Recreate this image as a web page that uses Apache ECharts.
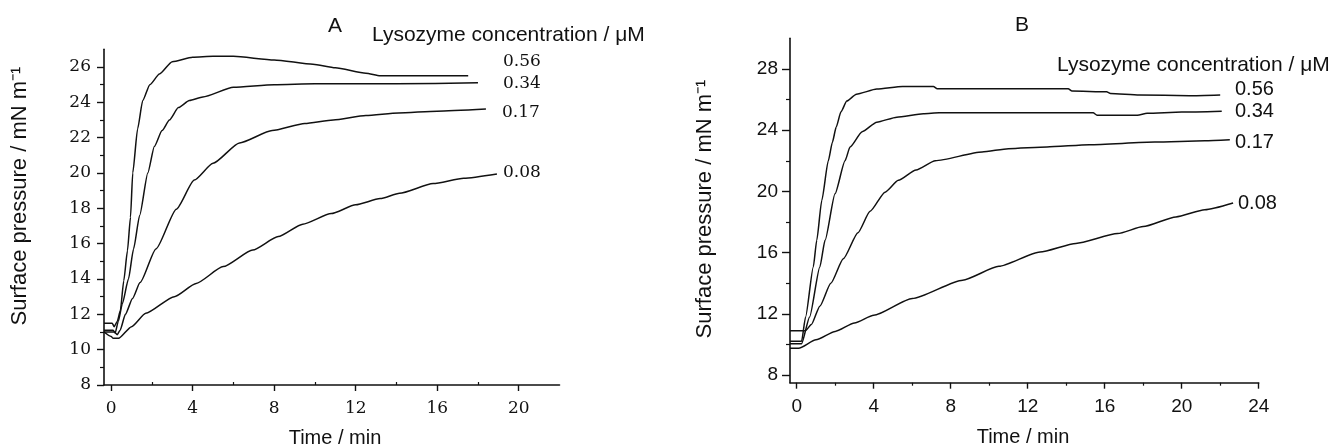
<!DOCTYPE html>
<html>
<head>
<meta charset="utf-8">
<script src="https://cdn.jsdelivr.net/npm/echarts@6/dist/echarts.min.js"></script>
<style>html,body{margin:0;padding:0;background:#fff;}#c{width:1338px;height:446px;}</style>
</head>
<body>
<div id="c"></div>
<script>
// ---- Panel A data (time / min, surface pressure / mN m-1) ----
const timeA056 = [-0.35,0.05,0.15,0.3,0.45,0.62,0.8,0.95,1.06,1.3,1.55,1.9,2.37,3.0,4.0,5.0,6.0,8.0,9.9,11.0,12.5,13.2,17.52];
const presA056 = [11.5,11.5,11.3,11.6,12.2,13.9,15.6,17.5,20.0,22.5,24.1,25.0,25.6,26.3,26.55,26.6,26.6,26.4,26.15,25.95,25.65,25.5,25.5];
const timeA034 = [-0.35,0.1,0.2,0.35,0.55,0.85,1.1,1.4,1.8,2.12,2.5,2.86,3.3,3.84,4.5,6.0,8.0,10,14,18.0];
const presA034 = [11.1,11.1,10.95,11.6,12.6,14.0,15.7,17.6,20.0,21.5,22.4,23.0,23.7,24.1,24.3,24.85,25.0,25.05,25.05,25.1];
const timeA017 = [-0.35,0.15,0.3,0.44,0.7,1.05,1.42,2.2,3.2,4.08,5.0,6.3,7.9,9.5,10.9,12.5,14.1,16,18.39];
const presA017 = [11.0,11.0,10.85,11.1,12.0,12.9,13.8,15.7,17.95,19.6,20.55,21.7,22.4,22.8,23.0,23.25,23.4,23.5,23.62];
const timeA008 = [-0.35,0.0,0.1,0.36,1.0,1.7,3.1,4.17,5.5,6.95,8.2,9.4,10.8,12.0,13.2,14.15,15.8,17.3,18.93];
const presA008 = [11.0,10.75,10.64,10.64,11.3,12.06,13.0,13.75,14.7,15.64,16.4,17.1,17.7,18.2,18.55,18.85,19.4,19.7,19.94];

// ---- Panel B data ----
const timeB056 = [-0.35,0.25,0.46,0.86,1.04,1.3,1.64,1.85,2.05,2.3,2.6,3.1,4.16,5.5,7.1,7.3,14.1,14.3,16.1,16.3,17.8,20.4,22.0];
const presB056 = [10.2,10.2,11.8,15.06,16.8,19.4,22.0,23.2,24.2,25.2,25.9,26.35,26.68,26.85,26.85,26.7,26.7,26.55,26.5,26.4,26.3,26.25,26.3];
const timeB034 = [-0.35,0.25,0.67,1.2,1.47,1.99,2.51,2.77,3.4,4.16,5.2,6.58,7.4,15.4,15.6,17.7,18.2,20,22.08];
const presB034 = [10.05,10.05,11.8,15.06,16.8,19.85,22.0,22.9,23.9,24.52,24.85,25.07,25.13,25.13,24.98,24.98,25.1,25.18,25.24];
const timeB017 = [-0.35,0.45,0.76,1.2,1.77,2.42,3.18,3.81,4.59,5.28,6.2,7.2,9.63,11,13,15.2,18.6,21.2,22.5];
const presB017 = [10.9,10.9,11.3,12.5,14.0,15.6,17.3,18.7,19.95,20.72,21.4,22.0,22.57,22.79,22.9,23.05,23.22,23.3,23.37];
const timeB008 = [-0.35,0.1,1,2,3,4.0,6,8.62,10.5,12.64,14.5,16.67,18,19.7,21.2,22.67];
const presB008 = [9.75,9.75,10.3,10.85,11.4,11.9,13.0,14.2,15.1,16.04,16.6,17.24,17.7,18.33,18.8,19.24];

// ---- tick labels ----
const xTicksA = [0,4,8,12,16,20];
const xMinorA = [2,6,10,14,18];
const yTicksA = [8,10,12,14,16,18,20,22,24,26];
const yMinorA = [9,11,13,15,17,19,21,23,25];
const xTicksB = [0,4,8,12,16,20,24];
const xMinorB = [2,6,10,14,18,22];
const yTicksB = [8,12,16,20,24,28];
const yMinorB = [10,14,18,22,26];

const concLabels = ['0.56','0.34','0.17','0.08'];

function zip(xs, ys){ return xs.map((x,i)=>[x, ys[i]]); }

const chart = echarts.init(document.getElementById('c'));
const axisColor = '#111';
const serifLabel = {fontFamily:'DejaVu Serif', fontSize:17, color:'#111'};
const sansLabel = {fontFamily:'Liberation Sans', fontSize:19, color:'#111'};

function mainX(grid, min, max, ticks, labelStyle){
  return {type:'value', gridIndex:grid, min:min, max:max, position:'bottom',
    axisLine:{show:true, onZero:false, lineStyle:{color:axisColor, width:1.6}},
    axisTick:{show:true, customValues:ticks, length:6, lineStyle:{color:axisColor, width:1.4}},
    axisLabel:Object.assign({show:true, customValues:ticks, margin:15}, labelStyle),
    splitLine:{show:false}};
}
function minorX(grid, min, max, ticks, inside){
  return {type:'value', gridIndex:grid, min:min, max:max, position:'bottom',
    axisLine:{show:false, onZero:false},
    axisTick:{show:true, customValues:ticks, length:3, inside:inside, lineStyle:{color:axisColor, width:1.2}},
    axisLabel:{show:false}, splitLine:{show:false}};
}
function mainY(grid, min, max, ticks, labelStyle, len, margin){
  return {type:'value', gridIndex:grid, min:min, max:max, position:'left',
    axisLine:{show:true, onZero:false, lineStyle:{color:axisColor, width:1.6}},
    axisTick:{show:true, customValues:ticks, length:len, lineStyle:{color:axisColor, width:1.4}},
    axisLabel:Object.assign({show:true, customValues:ticks, margin:margin}, labelStyle),
    splitLine:{show:false}};
}
function minorY(grid, min, max, ticks){
  return {type:'value', gridIndex:grid, min:min, max:max, position:'left',
    axisLine:{show:false, onZero:false},
    axisTick:{show:true, customValues:ticks, length:4, lineStyle:{color:axisColor, width:1.2}},
    axisLabel:{show:false}, splitLine:{show:false}};
}
function line(name, xi, yi, data){
  return {type:'line', name:name, xAxisIndex:xi, yAxisIndex:yi, data:data,
    showSymbol:false, smooth:0.2, smoothMonotone:'x', silent:true,
    lineStyle:{color:'#111', width:1.5}};
}

const lysoFont = {fontFamily:'Liberation Sans', fontSize:21, fill:'#111'};
const timeFont = {fontFamily:'Liberation Sans', fontSize:20, fill:'#111', align:'center'};
const yFont = {fontFamily:'Liberation Sans', fontSize:22, fill:'#111', align:'center'};
function txt(x, y, s, style, extra){
  return Object.assign({type:'text', x:x, y:y, silent:true,
    style:Object.assign({text:s, align:'left', verticalAlign:'middle'}, style)}, extra||{});
}
const serifTag = {fontFamily:'DejaVu Serif',fontSize:17,fill:'#111'};
const sansTag = {fontFamily:'Liberation Sans',fontSize:20,fill:'#111'};

chart.setOption({
  animation:false,
  grid:[
    {left:104, top:49.3, width:455.5, height:335.7},
    {left:790, top:38.3, width:468.7, height:344.4}
  ],
  xAxis:[
    mainX(0,-0.35,22,xTicksA,serifLabel),
    minorX(0,-0.35,22,xMinorA,true),
    mainX(1,-0.35,24,xTicksB,sansLabel),
    minorX(1,-0.35,24,xMinorB,false)
  ],
  yAxis:[
    mainY(0,8,27,yTicksA,serifLabel,7,13),
    minorY(0,8,27,yMinorA),
    mainY(1,7.5,30,yTicksB,sansLabel,8,12),
    minorY(1,7.5,30,yMinorB)
  ],
  series:[
    line('A 0.56',0,0,zip(timeA056,presA056)),
    line('A 0.34',0,0,zip(timeA034,presA034)),
    line('A 0.17',0,0,zip(timeA017,presA017)),
    line('A 0.08',0,0,zip(timeA008,presA008)),
    line('B 0.56',2,2,zip(timeB056,presB056)),
    line('B 0.34',2,2,zip(timeB034,presB034)),
    line('B 0.17',2,2,zip(timeB017,presB017)),
    line('B 0.08',2,2,zip(timeB008,presB008))
  ],
  graphic:[
    txt(335,26,'A',{fontFamily:'Liberation Sans',fontSize:21,fill:'#111',align:'center'}),
    txt(372,35,'Lysozyme concentration / μM',lysoFont),
    txt(1022,25,'B',{fontFamily:'Liberation Sans',fontSize:21,fill:'#111',align:'center'}),
    txt(1057,65,'Lysozyme concentration / μM',lysoFont),
    txt(335,438,'Time / min',timeFont),
    txt(1023,437,'Time / min',timeFont),
    txt(20,196,'Surface pressure / mN m⁻¹',yFont,{rotation:Math.PI/2}),
    txt(705,209,'Surface pressure / mN m⁻¹',yFont,{rotation:Math.PI/2}),
    txt(503,62,concLabels[0],serifTag),
    txt(503,84,concLabels[1],serifTag),
    txt(502,113,concLabels[2],serifTag),
    txt(503,173,concLabels[3],serifTag),
    txt(1235,89,concLabels[0],sansTag),
    txt(1235,111,concLabels[1],sansTag),
    txt(1235,142,concLabels[2],sansTag),
    txt(1238,203,concLabels[3],sansTag)
  ]
});
</script>
</body>
</html>
